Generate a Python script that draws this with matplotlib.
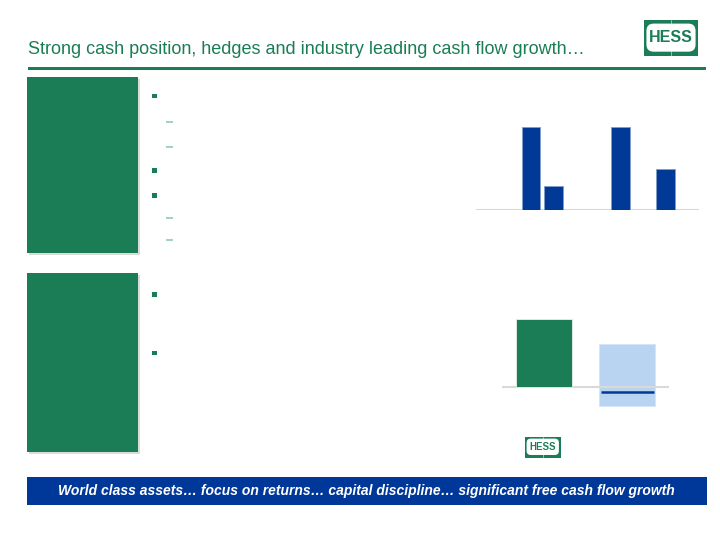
import matplotlib
matplotlib.use('Agg')
import matplotlib.pyplot as plt
from matplotlib.patches import Rectangle, FancyBboxPatch
import numpy as np

# ---------------- data ----------------
title = "Strong cash position, hedges and industry leading cash flow growth…"
banner = "World class assets… focus on returns… capital discipline… significant free cash flow growth"

# top chart: three groups, two series (missing bars are NaN)
top_groups = [0, 1, 2]
top_series1 = [100, np.nan, 49]
top_series2 = [29, 100, np.nan]

# bottom chart: Hess bar vs peer range with median line
bottom_cats = [0, 1]
hess_value = 17.0
peer_low = -4.7
peer_high = 10.8
peer_median = -1.2

# ---------------- style ----------------
W, H = 720, 540
GREEN = '#1A7D55'
BLUE = '#003A96'
BANNER_BLUE = '#00389A'
LIGHT_BLUE = '#B9D4F1'
AXIS_GRAY = '#D9D9D9'
DASH_GREEN = '#9FCBB5'

plt.rcParams['font.family'] = ['Liberation Sans', 'DejaVu Sans']
fig = plt.figure(figsize=(7.2, 5.4), dpi=100)
bg = fig.add_axes([0, 0, 1, 1])
bg.set_xlim(0, W)
bg.set_ylim(H, 0)
bg.axis('off')


def px_axes(x0, y0, x1, y1):
    a = fig.add_axes([x0 / W, 1 - y1 / H, (x1 - x0) / W, (y1 - y0) / H])
    a.axis('off')
    return a


def logo(x0, y0, w, h, fs):
    bg.add_patch(Rectangle((x0, y0), w, h, color=GREEN, lw=0))
    mx, mt, mb = w * 0.045, h * 0.10, h * 0.12
    r = h * 0.2
    bg.add_patch(FancyBboxPatch((x0 + mx, y0 + mt), w - 2 * mx, h - mt - mb,
                                boxstyle=f"round,pad=0,rounding_size={r}",
                                color='white', lw=0))
    bg.plot([x0 + w / 2, x0 + w / 2], [y0, y0 + h], color='white', lw=0.5, alpha=0.7)
    bg.text(x0 + w / 2, y0 + mt + (h - mt - mb) / 2 + 0.3, "HESS", color=GREEN, fontsize=fs,
            fontweight='bold', ha='center', va='center',
            family=['Liberation Sans Narrow', 'Liberation Sans', 'DejaVu Sans'])


# title
bg.text(28, 54, title, color=GREEN, fontsize=13, ha='left', va='baseline')
bg.add_patch(Rectangle((28, 66.5), 678, 3, color=GREEN, lw=0))
logo(644, 20, 54, 36, 11.5)

# left panels with shadow
for (y0, hgt) in [(77, 176), (273, 179)]:
    bg.add_patch(Rectangle((28.5, y0 + 1.5), 111, hgt, color='#888888', alpha=0.3, lw=0))
    bg.add_patch(Rectangle((27, y0), 111, hgt, color=GREEN, lw=0))

# bullets
for yb in [96, 170.3, 195.3, 294.3, 353]:
    bg.add_patch(Rectangle((152.3, yb - 2), 4.2, 4.2, color=GREEN, lw=0))
for yd in [121.7, 146.7, 218, 239.7]:
    bg.plot([166.3, 172.7], [yd, yd], color=DASH_GREEN, lw=1.3, solid_capstyle='butt')

# ---------------- top chart ----------------
ax1 = px_axes(475.7, 110, 698.7, 210)
x = np.array(top_groups, dtype=float)
off, bw = 0.166, 0.275
ax1.bar(x - off, top_series1, width=bw, color=BLUE, edgecolor='#7F9CCB', linewidth=0.6, zorder=2)
ax1.bar(x + off, top_series2, width=bw, color=BLUE, edgecolor='#7F9CCB', linewidth=0.6, zorder=2)
ax1.axhline(0, color=AXIS_GRAY, lw=1.5, zorder=1)
ax1.set_xlim(-0.991, 2.327)
ax1.set_ylim(0, 120.5)

# ---------------- bottom chart ----------------
ax2 = px_axes(502, 300, 668.7, 420)
ax2.axhline(0, color=AXIS_GRAY, lw=1.5, zorder=1)
ax2.bar(bottom_cats[0], hess_value, width=0.668, color=GREEN, edgecolor='#E8F2EC', linewidth=0.6, zorder=2)
ax2.bar(bottom_cats[1], peer_high - peer_low, bottom=peer_low, width=0.668, color=LIGHT_BLUE,
        edgecolor='#D5E5F7', linewidth=0.6, zorder=0.5)
ax2.hlines(peer_median, bottom_cats[1] - 0.318, bottom_cats[1] + 0.318, color=BLUE, lw=1.8, zorder=3)
ax2.set_xlim(-0.5, 1.5)
ax2.set_ylim(-(420 - 387.3) / 4, (387.3 - 300) / 4)

# small logo
logo(525, 436.5, 35.5, 21, 7)

# banner
bg.add_patch(Rectangle((27, 477), 680, 28, color=BANNER_BLUE, lw=0))
bg.text(366, 491.5, banner, color='white', fontsize=10, fontweight='bold', fontstyle='italic',
        ha='center', va='center')

fig.savefig('out.png', dpi=100)
